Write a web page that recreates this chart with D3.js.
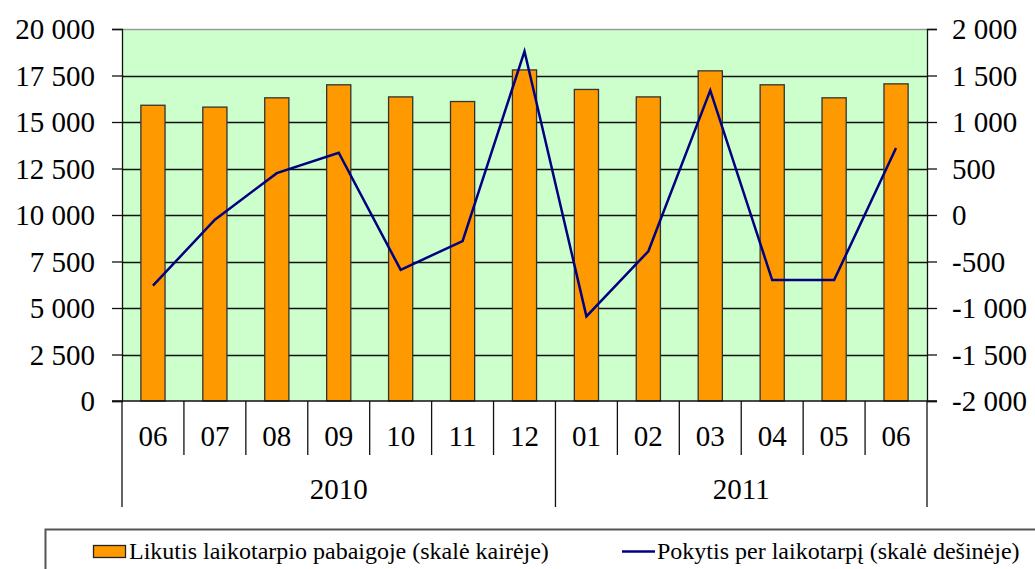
<!DOCTYPE html>
<html><head><meta charset="utf-8"><script src="https://cdn.jsdelivr.net/npm/d3@7"></script></head>
<body style="margin:0">
<script>
// months and years on the category axis
var months = ["06", "07", "08", "09", "10", "11", "12", "01", "02", "03", "04", "05", "06"];
var years = ["2010", "2011"];
var yearSpans = [7, 6];

// balance at period end (left scale)
var balance = [15900, 15800, 16300, 17000, 16350, 16100, 17800, 16750, 16350, 17750, 17000, 16300, 17050];
// change over period (right scale)
var change = [-760, -50, 450, 670, -590, -280, 1760, -1090, -390, 1340, -700, -700, 720];

var leftTicks = [0, 2500, 5000, 7500, 10000, 12500, 15000, 17500, 20000];
var rightTicks = [-2000, -1500, -1000, -500, 0, 500, 1000, 1500, 2000];

var legendLabels = ["Likutis laikotarpio pabaigoje (skalė kairėje)", "Pokytis per laikotarpį (skalė dešinėje)"];

var fontName = "Liberation Serif";

var width = 1035, height = 569;
var margins = { left: 122, right: 108, top: 29, bottom: 168 };
var plotW = width - margins.left - margins.right,
  plotH = height - margins.top - margins.bottom;

function fmt(v) {
  var s = String(Math.abs(v)).replace(/\B(?=(\d{3})+(?!\d))/g, " ");
  return (v < 0 ? "-" : "") + s;
}

var svg = d3.select("body").append("svg").attr("width", width).attr("height", height);

var idx = months.map(function (d, i) { return i; });

var xScale = d3.scaleBand().domain(idx).range([margins.left, margins.left + plotW]).padding(0);
var yLeft = d3.scaleLinear().domain([0, 20000]).range([margins.top + plotH, margins.top]);
var yRight = d3.scaleLinear().domain([-2000, 2000]).range([margins.top + plotH, margins.top]);

// plot background
svg.append("rect")
  .attr("x", margins.left)
  .attr("y", margins.top)
  .attr("width", plotW)
  .attr("height", plotH)
  .attr("fill", "#ccffcc");

// gridlines
svg.append("g")
  .selectAll("line")
  .data(leftTicks.filter(function (d) { return d > 0 && d < 20000; }))
  .enter()
  .append("line")
  .attr("x1", margins.left)
  .attr("x2", margins.left + plotW)
  .attr("y1", function (d) { return Math.round(yLeft(d)) + 0.5; })
  .attr("y2", function (d) { return Math.round(yLeft(d)) + 0.5; })
  .attr("stroke", "#111")
  .attr("stroke-width", 1.3);

// top border
svg.append("line")
  .attr("x1", margins.left)
  .attr("x2", margins.left + plotW)
  .attr("y1", margins.top + 0.5)
  .attr("y2", margins.top + 0.5)
  .attr("stroke", "#9a9a9a")
  .attr("stroke-width", 1.5);

// bars
var barW = xScale.bandwidth() * 0.39;
svg.selectAll(".bar")
  .data(balance)
  .enter()
  .append("rect")
  .attr("class", "bar")
  .attr("x", function (d, i) { return xScale(i) + (xScale.bandwidth() - barW) / 2; })
  .attr("y", function (d) { return yLeft(d); })
  .attr("width", barW)
  .attr("height", function (d) { return yLeft(0) - yLeft(d); })
  .attr("fill", "#ff9900")
  .attr("stroke", "#333")
  .attr("stroke-width", 1.3);

// line series
var line = d3.line()
  .x(function (d, i) { return xScale(i) + xScale.bandwidth() / 2; })
  .y(function (d) { return yRight(d); });

svg.append("path")
  .datum(change)
  .attr("d", line)
  .attr("fill", "none")
  .attr("stroke", "#000080")
  .attr("stroke-width", 2.5);

// axis lines and ticks drawn from the scales
var axisL = d3.axisLeft(yLeft).tickValues(leftTicks).tickSize(10).tickFormat("");
svg.append("g").attr("transform", `translate(${margins.left},0)`).call(axisL)
  .call(function (g) { g.selectAll("path, line").attr("stroke", "#111").attr("stroke-width", 1.3); });
var axisR = d3.axisRight(yRight).tickValues(rightTicks).tickSize(10).tickFormat("");
svg.append("g").attr("transform", `translate(${margins.left + plotW},0)`).call(axisR)
  .call(function (g) { g.selectAll("path, line").attr("stroke", "#111").attr("stroke-width", 1.3); });

// tick labels, one text element each
leftTicks.forEach(function (v) {
  svg.append("text").attr("x", margins.left - 27).attr("y", yLeft(v) + 10)
    .attr("font-size", 29).attr("font-family", fontName).attr("text-anchor", "end")
    .text(fmt(v));
});
rightTicks.forEach(function (v) {
  svg.append("text").attr("x", margins.left + plotW + 25).attr("y", yRight(v) + 10)
    .attr("font-size", 29).attr("font-family", fontName)
    .text(fmt(v));
});

// category axis
var baseY = yLeft(0);
svg.append("line")
  .attr("x1", margins.left - 10)
  .attr("x2", margins.left + plotW + 10)
  .attr("y1", baseY)
  .attr("y2", baseY)
  .attr("stroke", "#111")
  .attr("stroke-width", 1.3);

var yearEdges = [0];
yearSpans.forEach(function (s, i) { yearEdges.push(yearEdges[i] + s); });
d3.range(months.length + 1).forEach(function (i) {
  var x = i < months.length ? xScale(i) : margins.left + plotW;
  svg.append("line")
    .attr("x1", x).attr("x2", x)
    .attr("y1", baseY)
    .attr("y2", yearEdges.indexOf(i) >= 0 ? baseY + 106 : baseY + 54)
    .attr("stroke", "#111")
    .attr("stroke-width", 1.3);
});

months.forEach(function (m, i) {
  svg.append("text").attr("x", xScale(i) + xScale.bandwidth() / 2).attr("y", baseY + 45)
    .attr("font-size", 29).attr("font-family", fontName).attr("text-anchor", "middle")
    .text(m);
});

years.forEach(function (y, i) {
  var a = xScale(yearEdges[i]);
  var b = yearEdges[i + 1] < months.length ? xScale(yearEdges[i + 1]) : margins.left + plotW;
  svg.append("text").attr("x", (a + b) / 2).attr("y", baseY + 98)
    .attr("font-size", 29).attr("font-family", fontName).attr("text-anchor", "middle")
    .text(y);
});

// legend
svg.append("rect")
  .attr("x", 45.5)
  .attr("y", 529.5)
  .attr("width", 1100)
  .attr("height", 80)
  .attr("fill", "none")
  .attr("stroke", "#555")
  .attr("stroke-width", 2);

svg.append("rect")
  .attr("x", 93.5)
  .attr("y", 545.5)
  .attr("width", 32)
  .attr("height", 12)
  .attr("fill", "#ff9900")
  .attr("stroke", "#222")
  .attr("stroke-width", 1.3);
svg.append("text").attr("x", 129).attr("y", 558.5)
  .attr("font-size", 24).attr("font-family", fontName)
  .text(legendLabels[0]);

svg.append("line")
  .attr("x1", 622)
  .attr("x2", 655)
  .attr("y1", 551.5)
  .attr("y2", 551.5)
  .attr("stroke", "#000080")
  .attr("stroke-width", 2.5);
svg.append("text").attr("x", 657).attr("y", 558.5)
  .attr("font-size", 24).attr("font-family", fontName)
  .text(legendLabels[1]);

// force layout, then re-apply the face once the font has loaded
function refont() {
  svg.selectAll("text")
    .attr("font-family", fontName)
    .each(function () { this.getComputedTextLength(); });
}
refont();
if (document.fonts && document.fonts.load) {
  document.fonts.load("29px 'Liberation Serif'").then(refont);
  document.fonts.ready.then(refont);
}
setTimeout(refont, 50);
setTimeout(refont, 300);
</script></body></html>
